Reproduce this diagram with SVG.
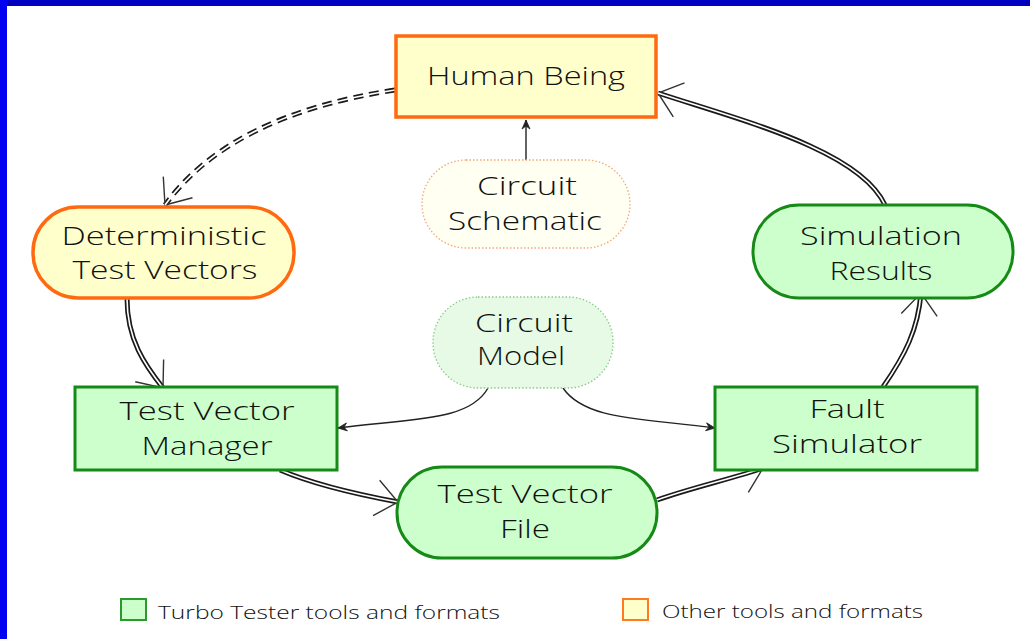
<svg xmlns="http://www.w3.org/2000/svg" width="1030" height="639" viewBox="0 0 1030 639">
  <style>
    .lbl { font-family: "Open Sans", "DejaVu Sans", sans-serif; font-weight: 300; font-size: 25px; fill: #111; text-anchor: middle; }
    .leg { font-family: "Open Sans", "Liberation Sans", sans-serif; font-weight: 300; font-size: 19px; fill: #111; }
    .other { fill: #ffffcc; stroke: #ff6a10; stroke-width: 3.5; }
    .turbo { fill: #ccffcc; stroke: #168a16; stroke-width: 3; }
    .dotted-o { fill: #fffff2; stroke: #f5a57a; stroke-width: 1.3; stroke-dasharray: 1.5 2; }
    .dotted-g { fill: #e6fae6; stroke: #88cc88; stroke-width: 1.3; stroke-dasharray: 1.5 2; }
    .dbl-out { fill: none; stroke: #1a1a1a; stroke-width: 5; }
    .dbl-in { fill: none; stroke: #fff; stroke-width: 1.6; }
    .thin { fill: none; stroke: #222; stroke-width: 1.4; }
  </style>
  <defs>
    <!-- open chevron head for the double-line flows -->
    <marker id="vee" markerUnits="userSpaceOnUse" markerWidth="40" markerHeight="40" viewBox="-30 -20 40 40" refX="0" refY="0" orient="auto" overflow="visible">
      <path d="M-22,-18 L0,0 L-22,18" fill="none" stroke="#333" stroke-width="1.4" stroke-dasharray="none"/>
    </marker>
    <!-- small solid head for the thin data links -->
    <marker id="tip" markerUnits="userSpaceOnUse" markerWidth="14" markerHeight="14" viewBox="-12 -7 14 14" refX="0" refY="0" orient="auto" overflow="visible">
      <path d="M0,0 L-9,-4 L-6,0 L-9,4 Z" fill="#222" stroke="#222" stroke-width="0.8"/>
    </marker>
  </defs>

  <!-- page -->
  <rect x="0" y="0" width="1030" height="639" fill="#ffffff"/>
  <rect x="0" y="0" width="1030" height="6" fill="#0000c0"/>
  <rect x="0" y="0" width="7" height="639" fill="#0000f0"/>

  <!-- connectors -->
  <g id="connectors">
    <!-- Human Being to Deterministic Test Vectors (dashed double line) -->
    <path class="dbl-out" d="M395,90 Q230,115 165,205" stroke-dasharray="10 6" marker-end="url(#vee)"/>
    <path class="dbl-in" d="M395,90 Q230,115 165,205"/>

    <!-- Deterministic Test Vectors to Test Vector Manager -->
    <path class="dbl-out" d="M127,298 C127,340 145,365 163,388" marker-end="url(#vee)"/>
    <path class="dbl-in" d="M127,298 C127,340 145,365 163,388"/>

    <!-- Test Vector Manager to Test Vector File -->
    <path class="dbl-out" d="M280,470 C315,485 355,494 398,502" marker-end="url(#vee)"/>
    <path class="dbl-in" d="M280,470 C315,485 355,494 398,502"/>

    <!-- Test Vector File to Fault Simulator -->
    <path class="dbl-out" d="M657,500 C690,488 735,478 763,468" marker-end="url(#vee)"/>
    <path class="dbl-in" d="M657,500 C690,488 735,478 763,468"/>

    <!-- Fault Simulator to Simulation Results -->
    <path class="dbl-out" d="M883,387 C905,355 918,330 921,293" marker-end="url(#vee)"/>
    <path class="dbl-in" d="M883,387 C905,355 918,330 921,293"/>

    <!-- Simulation Results to Human Being -->
    <path class="dbl-out" d="M885,205 C860,150 740,120 658,93" marker-end="url(#vee)"/>
    <path class="dbl-in" d="M885,205 C860,150 740,120 658,93"/>

    <!-- Circuit Schematic to Human Being -->
    <path class="thin" d="M526,160 L526,120" marker-end="url(#tip)"/>

    <!-- Circuit Model to the two tools -->
    <path class="thin" d="M488,388 C470,420 420,418 338,428" marker-end="url(#tip)"/>
    <path class="thin" d="M563,388 C585,420 640,418 715,428" marker-end="url(#tip)"/>
  </g>

  <g id="human-being">
    <rect class="other" x="396" y="36" width="260" height="81"/>
    <text class="lbl" x="526" y="85" textLength="198" lengthAdjust="spacingAndGlyphs">Human Being</text>
  </g>

  <g id="circuit-schematic">
    <rect class="dotted-o" x="422" y="160" width="208" height="88" rx="44" ry="44"/>
    <text class="lbl" x="527" y="195" textLength="100" lengthAdjust="spacingAndGlyphs">Circuit</text>
    <text class="lbl" x="525" y="230" textLength="154" lengthAdjust="spacingAndGlyphs">Schematic</text>
  </g>

  <g id="deterministic-test-vectors">
    <rect class="other" x="33" y="207" width="261" height="91" rx="45" ry="45"/>
    <text class="lbl" x="164" y="245" textLength="205" lengthAdjust="spacingAndGlyphs">Deterministic</text>
    <text class="lbl" x="165" y="279" textLength="185" lengthAdjust="spacingAndGlyphs">Test Vectors</text>
  </g>

  <g id="simulation-results">
    <rect class="turbo" x="753" y="205" width="260" height="93" rx="46" ry="46"/>
    <text class="lbl" x="881" y="245" textLength="162" lengthAdjust="spacingAndGlyphs">Simulation</text>
    <text class="lbl" x="881" y="280" textLength="103" lengthAdjust="spacingAndGlyphs">Results</text>
  </g>

  <g id="circuit-model">
    <rect class="dotted-g" x="433" y="297" width="180" height="91" rx="45" ry="45"/>
    <text class="lbl" x="524" y="332" textLength="98" lengthAdjust="spacingAndGlyphs">Circuit</text>
    <text class="lbl" x="521" y="365" textLength="88" lengthAdjust="spacingAndGlyphs">Model</text>
  </g>

  <g id="test-vector-manager">
    <rect class="turbo" x="75" y="387" width="262" height="83"/>
    <text class="lbl" x="207" y="420" textLength="175" lengthAdjust="spacingAndGlyphs">Test Vector</text>
    <text class="lbl" x="207" y="455" textLength="131" lengthAdjust="spacingAndGlyphs">Manager</text>
  </g>

  <g id="fault-simulator">
    <rect class="turbo" x="715" y="387" width="262" height="83"/>
    <text class="lbl" x="847" y="418" textLength="75" lengthAdjust="spacingAndGlyphs">Fault</text>
    <text class="lbl" x="847" y="453" textLength="150" lengthAdjust="spacingAndGlyphs">Simulator</text>
  </g>

  <g id="test-vector-file">
    <rect class="turbo" x="397" y="467" width="260" height="91" rx="45" ry="45"/>
    <text class="lbl" x="525" y="503" textLength="175" lengthAdjust="spacingAndGlyphs">Test Vector</text>
    <text class="lbl" x="525" y="538" textLength="50" lengthAdjust="spacingAndGlyphs">File</text>
  </g>

  <g id="legend">
    <rect x="121" y="599" width="25" height="21" fill="#ccffcc" stroke="#2a9a2a" stroke-width="2"/>
    <text class="leg" x="158" y="619" textLength="342" lengthAdjust="spacingAndGlyphs">Turbo Tester tools and formats</text>
    <rect x="623" y="599" width="25" height="21" fill="#ffffcc" stroke="#ff7a20" stroke-width="2"/>
    <text class="leg" x="662" y="618" textLength="261" lengthAdjust="spacingAndGlyphs">Other tools and formats</text>
  </g>
</svg>
